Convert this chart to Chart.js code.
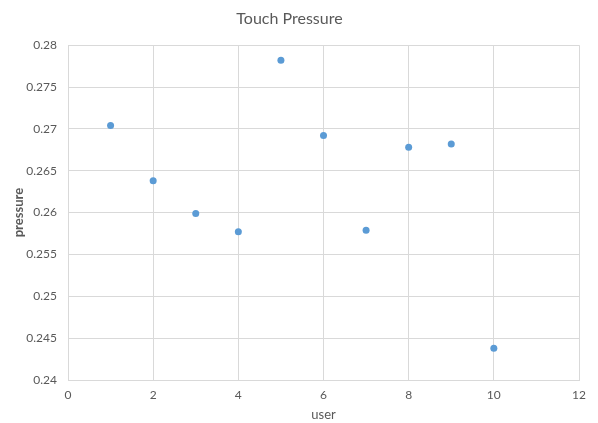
<!DOCTYPE html>
<html>
<head>
<meta charset="utf-8">
<script src="https://cdn.jsdelivr.net/npm/chart.js@4/dist/chart.umd.min.js"></script>
<style>
  html, body { margin: 0; padding: 0; background: #ffffff; }
  #wrap { width: 598px; height: 423px; }
</style>
</head>
<body>
<div id="wrap"><canvas id="c" width="598" height="423"></canvas></div>
<script>
// Touch pressure measured per user
const users = [1, 2, 3, 4, 5, 6, 7, 8, 9, 10];
const pressure = [0.2704, 0.2638, 0.2599, 0.2577, 0.2782, 0.2692, 0.2579, 0.2678, 0.2682, 0.2438];

const xTicks = [0, 2, 4, 6, 8, 10, 12];
const yTicks = [0.24, 0.245, 0.25, 0.255, 0.26, 0.265, 0.27, 0.275, 0.28];

const points = users.map((u, i) => ({ x: u, y: pressure[i] }));

const gridColor = '#d9d9d9';
const textColor = '#595959';
const fontFamily = 'Lato, "Open Sans", "Liberation Sans", sans-serif';

new Chart(document.getElementById('c'), {
  type: 'scatter',
  data: {
    datasets: [{
      label: 'pressure',
      data: points,
      backgroundColor: '#5b9bd5',
      borderColor: '#5b9bd5',
      pointRadius: 3.5,
      pointHoverRadius: 3.5,
      borderWidth: 0
    }]
  },
  options: {
    responsive: false,
    animation: false,
    layout: { padding: { left: 0, right: 19, top: 0, bottom: 0 } },
    plugins: {
      legend: { display: false },
      tooltip: { enabled: false },
      title: {
        display: true,
        text: 'Touch Pressure',
        color: textColor,
        font: { family: fontFamily, size: 16, weight: 'normal' },
        padding: { top: 9, bottom: 17 }
      }
    },
    scales: {
      x: {
        type: 'linear',
        min: xTicks[0],
        max: xTicks[xTicks.length - 1],
        afterBuildTicks: (s) => { s.ticks = xTicks.map(v => ({ value: v })); },
        afterFit: (s) => { s.height = 43; },
        grid: { color: gridColor, lineWidth: 1, drawTicks: false },
        border: { color: gridColor },
        ticks: {
          color: textColor,
          font: { family: fontFamily, size: 12 },
          padding: 8,
          maxRotation: 0
        },
        title: {
          display: true,
          text: 'user',
          color: textColor,
          font: { family: fontFamily, size: 13 },
          padding: { top: 0, bottom: 0 }
        }
      },
      y: {
        type: 'linear',
        min: yTicks[0],
        max: yTicks[yTicks.length - 1],
        afterBuildTicks: (s) => { s.ticks = yTicks.map(v => ({ value: v })); },
        afterFit: (s) => { s.width = 68; },
        grid: { color: gridColor, lineWidth: 1, drawTicks: false },
        border: { color: gridColor },
        ticks: {
          color: textColor,
          font: { family: fontFamily, size: 12 },
          padding: 11,
          callback: (v) => String(+Number(v).toFixed(3))
        },
        title: {
          display: true,
          text: 'pressure',
          color: textColor,
          font: { family: fontFamily, size: 13, weight: 'bold' },
          padding: { top: 11, bottom: 0 }
        }
      }
    }
  }
});
</script>
</body>
</html>
